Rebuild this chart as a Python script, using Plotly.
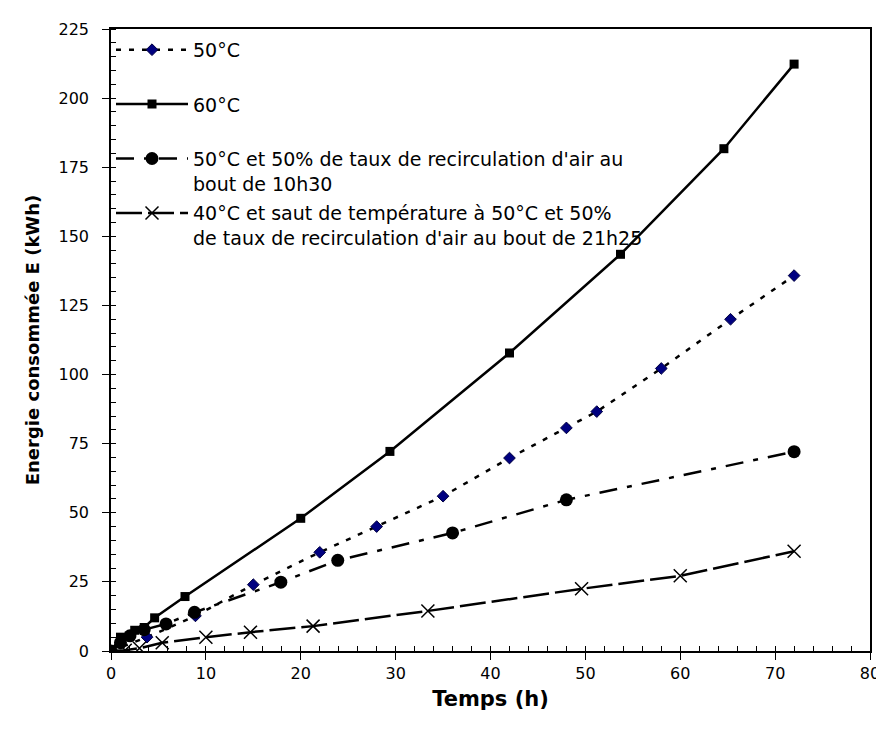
import plotly.graph_objects as go

# ---- data ----
t_50 = [0, 3.8, 8.9, 15, 22, 28, 35, 42, 48, 51.2, 58, 65.3, 72]
e_50 = [0, 5, 12.7, 24, 35.7, 45, 56, 69.8, 80.7, 86.6, 102.2, 120, 135.8]

t_60 = [0, 1, 2.5, 3.5, 4.6, 7.8, 20, 29.4, 42, 53.7, 64.6, 72]
e_60 = [0, 5, 7.5, 8.5, 12, 19.7, 48, 72.2, 107.8, 143.5, 181.7, 212.3]

t_rec = [0, 1, 2, 3.5, 5.8, 8.8, 17.9, 23.9, 36, 48, 72]
e_rec = [0, 3, 5.5, 7.7, 9.8, 14, 24.9, 32.8, 42.7, 54.7, 72.1]

t_saut = [0, 1.5, 3, 5.4, 10, 14.7, 21.3, 33.4, 49.6, 60, 72]
e_saut = [0, 0.3, 1, 3, 5, 6.8, 9, 14.5, 22.5, 27.2, 36.1]

names = [
    "50°C<br> ",
    "60°C<br> ",
    "50°C et 50% de taux de recirculation d'air au<br>bout de 10h30",
    "40°C et saut de température à 50°C et 50%<br>de taux de recirculation d'air au bout de 21h25",
]

x_ticks = [0, 10, 20, 30, 40, 50, 60, 70, 80]
y_ticks = [0, 25, 50, 75, 100, 125, 150, 175, 200, 225]

FONT = "DejaVu Sans, Liberation Sans, Arial, sans-serif"

fig = go.Figure()
fig.add_trace(go.Scatter(
    x=t_50, y=e_50, name=names[0], mode="lines+markers", legendgroup="a",
    line=dict(color="black", width=2.5, dash="5px,8px"),
    marker=dict(symbol="diamond", size=9, color="#000080",
                line=dict(color="#000040", width=1))))
fig.add_trace(go.Scatter(
    x=t_60, y=e_60, name=names[1], mode="lines+markers", legendgroup="b",
    line=dict(color="black", width=2.5),
    marker=dict(symbol="square", size=9, color="black")))
fig.add_trace(go.Scatter(
    x=t_rec, y=e_rec, name=names[2], mode="lines+markers", legendgroup="c",
    line=dict(color="black", width=2.5, dash="18px,10px,5px,10px"),
    marker=dict(symbol="circle", size=13, color="black")))
fig.add_trace(go.Scatter(
    x=t_saut, y=e_saut, name=names[3], mode="lines+markers", legendgroup="d",
    line=dict(color="black", width=2.5, dash="26px,6px"),
    marker=dict(symbol="x-thin", size=13, color="black",
                line=dict(color="black", width=1.5))))

axis_common = dict(
    showgrid=False, zeroline=False, showline=True, linecolor="black",
    linewidth=1.5, mirror=True, ticks="outside", ticklen=7, tickwidth=1.2,
    tickcolor="black", tickfont=dict(family=FONT, size=16, color="black"),
)

fig.update_xaxes(
    range=[0, 80], tickvals=x_ticks, ticktext=[str(v) for v in x_ticks],
    minor=dict(ticks="inside", dtick=2, ticklen=5, tickcolor="black", tickwidth=1),
    title=dict(text="<b>Temps (h)</b>", font=dict(family=FONT, size=21, color="black"),
               standoff=9),
    **axis_common)
fig.update_yaxes(
    range=[0, 225], tickvals=y_ticks, ticktext=[str(v) for v in y_ticks],
    minor=dict(ticks="inside", dtick=5, ticklen=5, tickcolor="black", tickwidth=1),
    ticklabelstandoff=10,
    title=dict(text="<b>Energie consommée E (kWh)</b>",
               font=dict(family=FONT, size=18, color="black"), standoff=14),
    **axis_common)

fig.update_layout(
    width=884, height=731,
    margin=dict(l=103, r=18, t=18, b=88),
    paper_bgcolor="white", plot_bgcolor="white",
    font=dict(family=FONT, size=16, color="black"),
    showlegend=True,
    legend=dict(x=0.0, y=0.997, xanchor="left", yanchor="top",
                bgcolor="rgba(0,0,0,0)", itemwidth=72, valign="top",
                tracegroupgap=2, traceorder="grouped",
                font=dict(family=FONT, size=19, color="black")),
)

fig.write_html("out.html")
